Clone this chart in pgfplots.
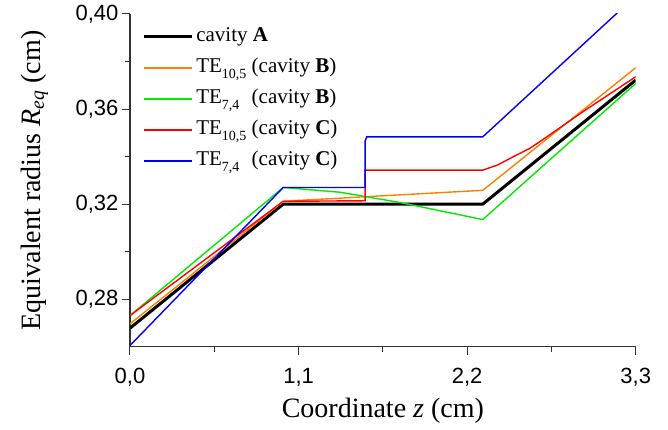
\documentclass[border=0pt]{standalone}
\usepackage{fontspec}
\setmainfont{Liberation Serif}
\newfontfamily\arialfont{Liberation Sans}
\usepackage{pgfplots}
\pgfplotsset{compat=1.18}

\definecolor{cOrange}{RGB}{255,128,0}
\definecolor{cGreen}{RGB}{0,235,0}
\definecolor{cRed}{RGB}{255,0,0}
\definecolor{cBlue}{RGB}{0,0,255}

% lowered subscript as in the original legend
\newcommand{\sub}[1]{\raisebox{-0.55ex}{\fontsize{14}{14}\selectfont #1}}

\begin{document}
\begin{tikzpicture}
\begin{axis}[
    scale only axis,
    width=505.7pt, height=332.7pt,
    xmin=0, xmax=3.3, ymin=0.26, ymax=0.40,
    axis lines*=left,
    axis line style={line width=1.1pt, black!80},
    tick align=outside,
    major tick length=8pt, minor tick length=5pt,
    tick style={line width=1pt, black!80},
    xtick={0,1.1,2.2,3.3}, xticklabels={{0,0},{1,1},{2,2},{3,3}},
    minor xtick={0.55,1.65,2.75},
    ytick={0.28,0.32,0.36,0.40}, yticklabels={{0,28},{0,32},{0,36},{0,40}},
    minor ytick={0.30,0.34,0.38},
    ticklabel style={font=\arialfont\fontsize{22}{22}\selectfont},
    xticklabel style={yshift=-10pt},
    xlabel={Coordinate \textit{z} (cm)},
    ylabel={Equivalent radius \textit{R}\textsubscript{\textit{eq}} (cm)},
    every axis x label/.style={at={(axis description cs:0.5,-0.193)}, anchor=center,
        font=\fontsize{28}{30}\selectfont},
    every axis y label/.style={at={(axis description cs:-0.189,0.5)}, rotate=90, anchor=center,
        font=\fontsize{28}{30}\selectfont},
    legend style={draw=none, fill=none, at={(axis description cs:0.018,0.977)},
        anchor=north west, font=\fontsize{21}{21}\selectfont,
        nodes={text height=15pt, text depth=5pt, inner sep=3pt}, row sep=5pt},
    legend cell align=left,
    legend image code/.code={\draw[#1] (0pt,0pt) -- (48pt,0pt);},
]
% cavity A
\addplot[black, line width=3pt] coordinates {
    (0,0.2678) (1.0,0.3200) (2.302,0.3200) (3.3,0.3722)
};
\addlegendentry{cavity \textbf{A}}
% TE10,5 cavity B
\addplot[cOrange, line width=1.4pt] coordinates {
    (0,0.2696) (1.0,0.3212) (2.302,0.3258) (3.3,0.3774)
};
\addlegendentry{TE\sub{10,5} (cavity \textbf{B})}
% TE7,4 cavity B
\addplot[cGreen, line width=1.4pt] coordinates {
    (0,0.2731) (1.0,0.3270) (1.37,0.3250) (1.76,0.3207) (2.302,0.3135) (3.3,0.3708)
};
\addlegendentry{TE\sub{\rlap{7,4}\hphantom{10,5}} (cavity \textbf{B})}
% TE10,5 cavity C
\addplot[cRed, line width=1.4pt] coordinates {
    (0,0.2731) (1.0,0.3212) (1.534,0.3214) (1.534,0.3343) (2.302,0.3343)
    (2.40,0.3365) (2.50,0.3399) (2.61,0.3435) (2.72,0.3483) (2.94,0.3582) (3.3,0.3736)
};
\addlegendentry{TE\sub{10,5} (cavity \textbf{C})}
% TE7,4 cavity C
\addplot[cBlue, line width=1.4pt] coordinates {
    (0,0.2605) (1.0,0.3270) (1.534,0.3270) (1.534,0.3465) (1.545,0.3483)
    (2.302,0.3483) (3.3,0.4076)
};
\addlegendentry{TE\sub{\rlap{7,4}\hphantom{10,5}} (cavity \textbf{C})}
\end{axis}
\pgfresetboundingbox
\path[use as bounding box] (-130pt,-83.3pt) rectangle (538pt,346.7pt);
\end{tikzpicture}
\end{document}
